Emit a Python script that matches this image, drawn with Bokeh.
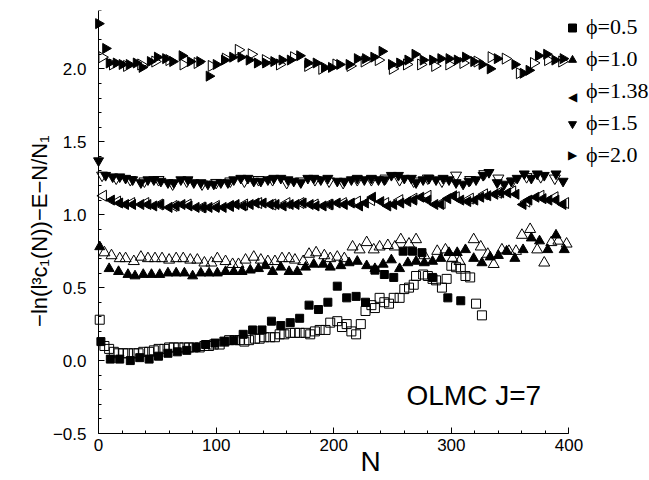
import numpy as np
from bokeh.plotting import figure
from bokeh.models import (SingleIntervalTicker, Range1d, Legend, LegendItem, Label,
                          CustomJSTickFormatter, LinearAxis, CustomLabelingPolicy)
from bokeh.embed import file_html
from bokeh.resources import INLINE

# ---------------- data ----------------
# phi = 0.5, filled squares
N_sq_f = [2,10,18,27,35,43,51,59,67,75,83,91,99,107,115,123,131,139,147,155,163,171,179,187,195,
          203,211,219,227,235,243,251,259,267,275,284,297,308]
v_sq_f = [0.13,0.01,0.01,0.00,0.02,0.01,0.03,0.05,0.06,0.07,0.09,0.11,0.12,0.13,0.14,0.18,0.21,0.21,
          0.27,0.24,0.26,0.29,0.38,0.35,0.40,0.51,0.43,0.44,0.40,0.62,0.59,0.57,0.75,0.75,0.74,0.57,0.43,0.41]
# phi = 0.5, open squares
N_sq_o = [1,5,9,13,17,21,25,30,34,38,43,47,51,56,60,64,68,73,77,81,86,90,94,98,103,107,111,116,120,124,
          128,133,137,141,146,150,154,158,163,167,171,176,180,184,188,193,197,203,207,211,215,219,223,227,
          232,235,239,243,247,251,256,260,264,268,270,276,280,284,287,292,296,300,304,308,312,316,321,326]
v_sq_o = [0.28,0.10,0.08,0.06,0.05,0.05,0.05,0.05,0.05,0.06,0.06,0.07,0.08,0.08,0.09,0.09,0.09,0.09,0.09,
          0.09,0.09,0.10,0.10,0.11,0.11,0.13,0.14,0.14,0.14,0.13,0.14,0.15,0.15,0.16,0.16,0.16,0.18,0.18,
          0.19,0.19,0.19,0.19,0.18,0.20,0.21,0.21,0.26,0.27,0.23,0.25,0.20,0.18,0.25,0.34,0.38,0.36,0.43,
          0.40,0.39,0.43,0.43,0.49,0.50,0.52,0.58,0.59,0.58,0.56,0.55,0.50,0.56,0.65,0.64,0.63,0.58,0.57,
          0.39,0.31]
# phi = 1.0, filled triangles
N_tr_f = [1,9,17,25,31,38,45,52,59,66,73,80,87,94,101,108,115,122,129,136,142,148,155,162,169,176,183,
          191,197,206,213,220,228,235,242,249,256,263,270,277,284,291,298,305,312,319,326,333,340,347,
          354,361,368,375,382,389,396]
v_tr_f = [0.78,0.63,0.61,0.59,0.58,0.59,0.59,0.59,0.60,0.60,0.60,0.58,0.60,0.60,0.60,0.61,0.61,0.61,0.62,
          0.63,0.65,0.61,0.64,0.61,0.61,0.64,0.66,0.66,0.64,0.65,0.67,0.68,0.65,0.63,0.66,0.69,0.63,0.67,
          0.68,0.67,0.68,0.70,0.74,0.74,0.76,0.70,0.67,0.71,0.72,0.75,0.70,0.76,0.84,0.82,0.76,0.86,0.76]
# phi = 1.0, open triangles
N_tr_o = [5,11,18,23,30,36,42,48,54,60,66,72,78,84,90,96,101,108,114,119,125,132,138,144,150,156,162,
          167,174,179,185,192,197,203,209,216,222,228,234,239,246,252,257,264,270,277,288,295,301,307,
          319,325,331,336,343,349,355,360,367,373,379,385,391,398]
v_tr_o = [0.74,0.72,0.70,0.70,0.68,0.71,0.70,0.70,0.70,0.69,0.70,0.70,0.69,0.69,0.67,0.67,0.70,0.68,0.66,
          0.66,0.69,0.71,0.69,0.68,0.68,0.70,0.70,0.69,0.68,0.73,0.74,0.72,0.70,0.71,0.70,0.78,0.76,0.81,
          0.76,0.78,0.79,0.78,0.83,0.80,0.83,0.72,0.75,0.76,0.70,0.68,0.83,0.78,0.73,0.66,0.76,0.75,0.75,
          0.86,0.90,0.76,0.67,0.81,0.82,0.80]
# phi = 1.38, filled left triangles
N_lt_f = [11,18,23,29,36,42,47,53,60,66,71,77,83,89,94,100,106,112,117,123,129,134,140,146,151,157,163,
          168,174,180,185,191,197,203,209,215,222,227,233,240,246,251,257,263,268,274,280,286,291,297,
          302,308,314,320,325,331,337,342,348,355,361,366,372,378,383,389,395]
v_lt_f = [1.10,1.08,1.07,1.07,1.07,1.07,1.06,1.07,1.05,1.06,1.07,1.06,1.05,1.05,1.05,1.05,1.05,1.06,1.07,
          1.06,1.07,1.08,1.08,1.07,1.07,1.06,1.07,1.07,1.08,1.07,1.06,1.06,1.07,1.08,1.07,1.08,1.06,1.08,
          1.12,1.09,1.06,1.07,1.08,1.09,1.10,1.12,1.10,1.07,1.07,1.11,1.13,1.10,1.09,1.10,1.12,1.13,1.14,
          1.15,1.15,1.14,1.07,1.10,1.12,1.11,1.10,1.10,1.07]
# phi = 1.38, open left triangles
N_lt_o = [4,16,28,40,52,64,76,88,100,112,124,136,148,160,172,184,196,208,220,232,244,256,268,280,292,
          304,316,328,340,352,364,376,388,397]
v_lt_o = [1.13,1.09,1.08,1.08,1.07,1.06,1.07,1.05,1.06,1.06,1.07,1.08,1.07,1.08,1.08,1.07,1.07,1.08,1.09,
          1.10,1.08,1.10,1.11,1.13,1.08,1.12,1.11,1.14,1.15,1.16,1.09,1.13,1.12,1.08]
# phi = 1.5, filled down triangles
N_dn_f = [0,6,12,18,23,29,36,42,47,53,59,64,70,76,81,87,93,98,104,110,115,121,127,132,138,144,149,155,
          161,166,172,178,183,189,195,203,209,215,220,226,232,238,243,249,255,260,266,270,276,281,287,
          293,298,304,310,315,321,327,332,339,345,351,356,362,368,373,379,389,395]
v_dn_f = [1.37,1.27,1.26,1.26,1.25,1.24,1.22,1.24,1.24,1.23,1.22,1.22,1.24,1.24,1.22,1.22,1.21,1.21,1.22,
          1.22,1.24,1.25,1.25,1.23,1.23,1.24,1.25,1.25,1.24,1.23,1.22,1.25,1.25,1.24,1.25,1.23,1.23,1.24,
          1.25,1.24,1.25,1.24,1.24,1.27,1.27,1.25,1.25,1.22,1.24,1.25,1.24,1.25,1.24,1.22,1.21,1.23,1.24,
          1.27,1.29,1.22,1.21,1.23,1.25,1.28,1.25,1.28,1.27,1.28,1.23]
# phi = 1.5, open down triangles
N_dn_o = [3,15,27,39,51,63,75,88,100,112,124,136,148,160,172,184,196,208,220,232,244,256,268,280,292,
          304,316,328,340,352,364,376,388]
v_dn_o = [1.27,1.25,1.24,1.23,1.24,1.21,1.23,1.21,1.22,1.23,1.23,1.24,1.24,1.22,1.23,1.24,1.23,1.22,1.24,
          1.24,1.25,1.24,1.23,1.25,1.23,1.27,1.24,1.28,1.25,1.23,1.26,1.26,1.25]
# phi = 2.0, filled right triangles
N_rt_f = [0,6,9,15,20,26,32,37,44,50,57,63,71,78,86,94,100,107,114,121,128,135,142,149,156,163,171,178,
          185,192,198,205,213,220,227,234,241,249,256,263,269,276,284,291,298,305,312,319,326,333,339,
          354,361,366,374,381,388,395]
v_rt_f = [2.31,2.14,2.04,2.04,2.03,2.03,2.04,2.01,2.05,2.08,2.07,2.05,2.09,2.05,2.05,1.95,2.03,2.06,2.08,
          2.08,2.06,2.04,2.04,2.05,2.06,2.06,2.09,2.04,2.04,2.01,2.01,2.03,2.03,2.07,2.07,2.08,2.12,2.03,
          2.04,2.06,2.10,2.06,2.06,2.07,2.07,2.06,2.08,2.05,2.03,2.00,2.07,2.03,1.97,1.99,2.09,2.10,2.06,2.07]
# phi = 2.0, open right triangles
N_rt_o = [3,12,24,36,48,60,72,84,96,108,119,130,142,154,166,178,190,202,214,226,238,250,262,274,286,
          298,310,322,334,346,358,370,382,394]
v_rt_o = [2.08,2.03,2.02,2.03,2.05,2.06,2.03,2.04,2.02,2.07,2.13,2.10,2.06,2.03,2.08,2.02,2.00,2.03,2.02,
          2.05,2.06,2.00,2.03,2.03,2.02,2.03,2.04,2.05,2.08,2.07,1.97,2.04,2.06,2.05]

legend_labels = ["ϕ=0.5", "ϕ=1.0", "ϕ=1.38", "ϕ=1.5", "ϕ=2.0"]
legend_keys_rotated = {"ϕ=1.38": "◀", "ϕ=2.0": "▶"}
y_title = "−ln(l³c₁(N))−E−N/N₁\u00a0\u00a0\u00a0"
x_title = "N"
annotation = "OLMC J=7"

# ---------------- figure ----------------
p = figure(width=649, height=480, output_backend="svg", toolbar_location=None,
           x_range=Range1d(-6, 468.5), y_range=Range1d(-0.5, 2.4),
           min_border_left=91, min_border_right=0, min_border_top=10, min_border_bottom=47)
p.outline_line_color = None
p.grid.visible = False
p.background_fill_color = "white"
p.border_fill_color = "white"

SANS = "Liberation Sans"

xa = p.xaxis[0]
xa.ticker = SingleIntervalTicker(interval=100, num_minor_ticks=5)
xa.bounds = (0, 400)

# left axis at the frame edge: tick labels + title only
ya = p.yaxis[0]
ya.ticker = SingleIntervalTicker(interval=0.5, num_minor_ticks=5)
ya.formatter = CustomJSTickFormatter(code="return tick.toFixed(1).replace('-', '\u2212');")
ya.axis_line_color = None
ya.major_tick_line_color = None
ya.minor_tick_line_color = None
ya.major_tick_in = 0
ya.major_tick_out = 0
ya.minor_tick_in = 0
ya.minor_tick_out = 0

# axis line + ticks drawn at N = 0 (its labels are suppressed; the axis above carries them)
yline = LinearAxis(ticker=SingleIntervalTicker(interval=0.5, num_minor_ticks=5),
                   fixed_location=0, major_label_text_font_size="2px",
                   major_label_standoff=0, axis_label=None,
                   major_label_policy=CustomLabelingPolicy(
                       code="const n = indices.size; for (let i = 0; i < n; i++) indices.unset(i); return indices;"))
p.add_layout(yline, "left")

for ax in (xa, yline):
    ax.axis_line_color = "black"
    ax.axis_line_width = 1
    ax.major_tick_line_color = "black"
    ax.minor_tick_line_color = "black"
    ax.major_tick_in = 6
    ax.major_tick_out = 0
    ax.minor_tick_in = 3
    ax.minor_tick_out = 0

for ax in (xa, ya):
    ax.major_label_text_font = SANS
    ax.major_label_text_font_size = "17px"
    ax.major_label_text_color = "black"
    ax.axis_label_text_font = SANS
    ax.axis_label_text_font_style = "normal"
    ax.axis_label_text_color = "black"

xa.major_label_standoff = 5
xa.axis_label = x_title
xa.axis_label_text_font_size = "28px"
xa.axis_label_standoff = -8
ya.major_label_standoff = 5
ya.axis_label = y_title
ya.axis_label_text_font_size = "22px"
ya.axis_label_standoff = -2

# ---------------- data marks ----------------
blk = "black"
r05 = p.scatter(N_sq_f, v_sq_f, marker="square", size=8, fill_color=blk, line_color=blk)
p.scatter(N_sq_o, v_sq_o, marker="square", size=9, fill_color=None, line_color=blk, line_width=1)
r10 = p.scatter(N_tr_f, v_tr_f, marker="triangle", size=10, fill_color=blk, line_color=blk)
p.scatter(N_tr_o, v_tr_o, marker="triangle", size=11, fill_color=None, line_color=blk, line_width=1)
r138 = p.scatter(N_lt_f, v_lt_f, marker="triangle", angle=np.pi/2, size=10, fill_color=blk, line_color=blk)
p.scatter(N_lt_o, v_lt_o, marker="triangle", angle=np.pi/2, size=11, fill_color=None, line_color=blk, line_width=1)
r15 = p.scatter(N_dn_f, v_dn_f, marker="inverted_triangle", size=10, fill_color=blk, line_color=blk)
p.scatter(N_dn_o, v_dn_o, marker="inverted_triangle", size=11, fill_color=None, line_color=blk, line_width=1)
r20 = p.scatter(N_rt_f, v_rt_f, marker="triangle", angle=-np.pi/2, size=10, fill_color=blk, line_color=blk)
p.scatter(N_rt_o, v_rt_o, marker="triangle", angle=-np.pi/2, size=11, fill_color=None, line_color=blk, line_width=1)

# Bokeh legends ignore marker angles: rotated entries get an invisible key and a drawn symbol
blank = p.scatter([], [], marker="square", fill_alpha=0, line_alpha=0)
leg_renderers = [r05, r10, blank, r15, blank]

legend = Legend(items=[LegendItem(label=lab, renderers=[r]) for lab, r in
                       zip(legend_labels, leg_renderers)],
                location=(471, 265), orientation="vertical",
                background_fill_alpha=0, border_line_alpha=0, padding=0, margin=0,
                spacing=6, glyph_width=20, glyph_height=23, label_height=23,
                label_standoff=4, label_text_font="Liberation Serif",
                label_text_font_size="22px", label_text_color="black")
p.add_layout(legend)

row_h = 23 + 6
top_center = 265 + 5 * 23 + 4 * 6 - 23 / 2
for i, lab in enumerate(legend_labels):
    if lab in legend_keys_rotated:
        p.add_layout(Label(x=481, y=top_center - i * row_h + 2, x_units="screen", y_units="screen",
                           text=legend_keys_rotated[lab], text_font="DejaVu Sans",
                           text_font_size="12px", text_color="black",
                           text_align="center", text_baseline="middle"))

p.add_layout(Label(x=315, y=38, x_units="screen", y_units="screen", text=annotation,
                   text_font=SANS, text_font_size="28px", text_color="black",
                   text_baseline="alphabetic"))

open("out.html", "w").write(file_html(p, INLINE))
